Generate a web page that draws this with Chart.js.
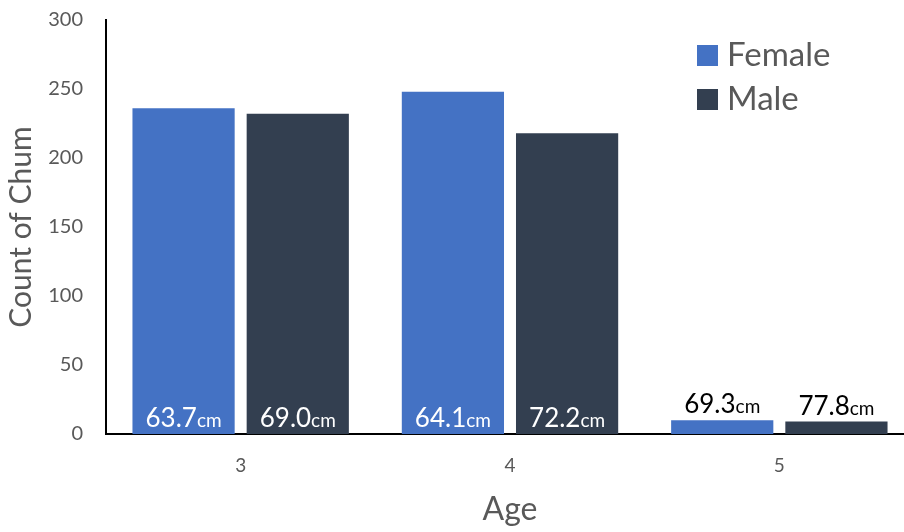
<!DOCTYPE html>
<html>
<head>
<meta charset="utf-8">
<script src="https://cdn.jsdelivr.net/npm/chart.js@4"></script>
<style>
  html, body { margin: 0; padding: 0; background: #fff; overflow: hidden; }
  #wrap { width: 904px; height: 532px; overflow: hidden; position: relative; }
  #wrap canvas { position: absolute; left: 0; top: 0; }
</style>
</head>
<body>
<div id="wrap"><canvas id="grafica" width="914" height="532"></canvas></div>
<script>
var ages = ["3", "4", "5"];
var femaleCount = [236, 248, 10];
var maleCount = [232, 218, 9];
var femaleLength = ["63.7", "64.1", "69.3"];
var maleLength = ["69.0", "72.2", "77.8"];
var yTicks = [0, 50, 100, 150, 200, 250, 300];

var fuente = "Lato, 'Open Sans', sans-serif";
var gris = "#595959";

// labels like 63.7cm, with the unit smaller
var etiquetas = {
    id: "etiquetas",
    afterDatasetsDraw(chart) {
        var ctx = chart.ctx;
        var longitudes = [femaleLength, maleLength];
        ctx.save();
        chart.data.datasets.forEach((ds, i) => {
            chart.getDatasetMeta(i).data.forEach((bar, j) => {
                var num = longitudes[i][j];
                ctx.font = "26px " + fuente;
                var w1 = ctx.measureText(num).width;
                ctx.font = "19px " + fuente;
                var w2 = ctx.measureText("cm").width;
                var alto = bar.base - bar.y;
                var y, color;
                if (alto > 40) {
                    y = bar.base - 7;
                    color = "#fff";
                } else {
                    y = bar.y - 7;
                    color = "#000";
                }
                var x = bar.x - (w1 + w2) / 2;
                ctx.fillStyle = color;
                ctx.textBaseline = "alphabetic";
                ctx.textAlign = "left";
                ctx.font = "26px " + fuente;
                ctx.fillText(num, x, y);
                ctx.font = "19px " + fuente;
                ctx.fillText("cm", x + w1, y);
            });
        });
        ctx.restore();
    }
};

var leyenda = {
    id: "leyenda",
    afterDraw(chart) {
        var ctx = chart.ctx;
        ctx.save();
        chart.data.datasets.forEach((ds, i) => {
            var top = 45 + i * 44;
            ctx.fillStyle = ds.backgroundColor;
            ctx.fillRect(697, top, 21, 21);
            ctx.fillStyle = gris;
            ctx.font = "33px " + fuente;
            ctx.textBaseline = "alphabetic";
            ctx.fillText(ds.label, 727, top + 21);
        });
        ctx.restore();
    }
};

var ctx = document.getElementById("grafica").getContext("2d");
var grafica = new Chart(ctx, {
    type: "bar",
    data: {
        labels: ages,
        datasets: [
            { label: "Female", data: femaleCount, backgroundColor: "#4472C4" },
            { label: "Male", data: maleCount, backgroundColor: "#333F50" }
        ]
    },
    options: {
        responsive: false,
        animation: false,
        layout: { padding: { top: 20, left: 0, right: 0, bottom: 0 } },
        categoryPercentage: 0.848,
        barPercentage: 0.895,
        plugins: {
            legend: { display: false },
            tooltip: { enabled: false }
        },
        scales: {
            x: {
                grid: { display: false, drawTicks: false },
                border: { display: true, color: "#000", width: 2 },
                ticks: { color: gris, font: { family: fuente, size: 19 }, padding: 20 },
                title: {
                    display: true, text: "Age", color: gris,
                    font: { family: fuente, size: 32 }, padding: { top: 0, bottom: 3 }
                },
                afterFit: scale => { scale.height = 98; }
            },
            y: {
                min: 0,
                max: 300,
                afterBuildTicks: scale => { scale.ticks = yTicks.map(v => ({ value: v })); },
                grid: { display: false, drawTicks: false },
                border: { display: true, color: "#000", width: 2 },
                ticks: { color: gris, font: { family: fuente, size: 20 }, padding: 23 },
                title: {
                    display: true, text: "Count of Chum", color: gris,
                    font: { family: fuente, size: 30 }, padding: { top: 3, bottom: 0 }
                },
                afterFit: scale => {
                    scale.width = 106;
                    scale.paddingTop = 0;
                    scale.paddingBottom = 0;
                }
            }
        }
    },
    plugins: [etiquetas, leyenda]
});
</script>
</body>
</html>
